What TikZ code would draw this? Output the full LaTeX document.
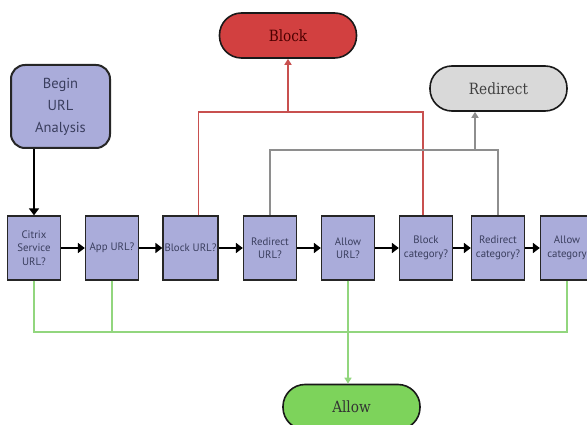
\documentclass[tikz,border=0pt]{standalone}
\usepackage{fontspec}
\setmainfont{PT Sans}
\newfontfamily\pillfont[FakeStretch=0.88]{DejaVu Serif}
\usetikzlibrary{arrows.meta}

\definecolor{boxfill}{HTML}{AAACDA}
\definecolor{boxtext}{HTML}{3A3E5E}
\definecolor{blockred}{HTML}{D24040}
\definecolor{redirgray}{HTML}{D9D9D9}
\definecolor{allowgreen}{HTML}{7DD35B}
\definecolor{redline}{HTML}{C8504F}
\definecolor{grayline}{HTML}{8E8E8E}
\definecolor{greenline}{HTML}{92D67E}

\tikzset{
  check/.style={draw=black!85, line width=1.3pt, fill=boxfill, minimum width=53pt,
    minimum height=64pt, inner sep=1pt, align=center, text=boxtext,
    font=\fontsize{10.8}{13.5}\selectfont},
  pill/.style={draw=black!90, line width=1.6pt, rounded corners=22pt,
    minimum width=137pt, minimum height=45pt, font=\pillfont\fontsize{15.5}{17}\selectfont},
  flow/.style={line width=2.6pt, -{Triangle[length=7pt,width=10pt]}},
  branch/.style={line width=1.6pt},
  branchtip/.style={branch, -{Triangle[length=6pt,width=7pt]}},
}

\begin{document}
\begin{tikzpicture}[x=1pt,y=-1pt]
\useasboundingbox (0,0) rectangle (587,425);
\clip (0,0) rectangle (587,425);

% start and outcomes
\node[check, rounded corners=14pt, line width=2pt, minimum width=99pt, minimum height=83pt,
  font=\fontsize{14.5}{22}\selectfont] (begin) at (60.5,106.5) {Begin\\URL\\Analysis};
\node[pill, fill=blockred, text=black!70!red] (block) at (288,35.5) {Block};
\node[pill, fill=redirgray, text=black!75] (redir) at (498.5,88.5) {Redirect};
\node[pill, fill=allowgreen, text=black!80] (allow) at (351.5,407) {Allow};

% checks
\node[check] (cit)  at (34,248)  {Citrix\\Service\\URL?};
\node[check] (app)  at (112,248) {App URL?};
\node[check, minimum width=55pt] (burl) at (190.5,248) {Block URL?};
\node[check] (rurl) at (270,248) {Redirect\\URL?};
\node[check] (aurl) at (348,248) {Allow\\URL?};
\node[check] (bcat) at (426,248) {Block\\category?};
\node[check] (rcat) at (498,248) {Redirect\\category?};
\node[check] (acat) at (567,248) {Allow\\category};

\coordinate (redtop) at (0,112);
\coordinate (graytop) at (0,150);
\coordinate (greenbot) at (0,332);

% main flow
\draw[flow] (begin.south -| cit.north) -- (cit.north);
\foreach \a/\b in {cit/app, app/burl, burl/rurl, rurl/aurl, aurl/bcat, bcat/rcat, rcat/acat}
  \draw[flow] (\a) -- (\b);

% block branch
\draw[branch, draw=redline] ([xshift=8pt]burl.north) |- ([xshift=-3pt]bcat.north |- redtop)
  -- ([xshift=-3pt]bcat.north);
\draw[branchtip, draw=redline, fill=redline] (block.south |- redtop) -- (block.south);

% redirect branch
\draw[branch, draw=grayline] (rurl.north) |- (rcat.north |- graytop) -- (rcat.north);
\draw[branchtip, draw=grayline, fill=grayline] ([xshift=-23.5pt]redir.south |- graytop)
  -- ([xshift=-23.5pt]redir.south);

% allow branch
\draw[branch, draw=greenline] (cit.south) |- (acat.south |- greenbot) -- (acat.south);
\draw[branch, draw=greenline] (app.south) -- (app.south |- greenbot);
\draw[branchtip, draw=greenline, fill=greenline] (aurl.south) -- (aurl.south |- allow.north);
\end{tikzpicture}
\end{document}
